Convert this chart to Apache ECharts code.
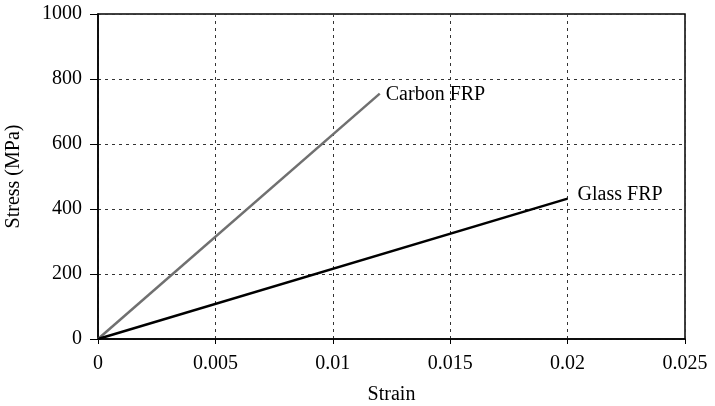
<!DOCTYPE html>
<html><head><meta charset="utf-8">
<script src="https://cdn.jsdelivr.net/npm/echarts@6/dist/echarts.min.js"></script>
<style>html,body{margin:0;padding:0;background:#fff}#c{width:715px;height:406px}</style>
</head><body><div id="c"></div>
<script>
const xTicks = [0, 0.005, 0.01, 0.015, 0.02, 0.025];
const yTicks = [0, 200, 400, 600, 800, 1000];
const carbonStrain = [0, 0.012];
const carbonStress = [0, 755];
const glassStrain = [0, 0.02];
const glassStress = [0, 432];
const seriesNames = ['Carbon FRP', 'Glass FRP'];

const font = 'Liberation Serif';
const fs = 20;
const chart = echarts.init(document.getElementById('c'));
const pair = (xs, ys) => xs.map((x, i) => [x, ys[i]]);
chart.setOption({
  animation: false,
  grid: { left: 98, right: 30, top: 14, bottom: 67, containLabel: false, outerBoundsMode: 'none', show: true, borderColor: '#000', borderWidth: 1.5, backgroundColor: 'transparent' },
  xAxis: {
    type: 'value', min: xTicks[0], max: xTicks[xTicks.length - 1], interval: 0.005,
    name: 'Strain', nameLocation: 'middle', nameGap: 46,
    nameTextStyle: { fontFamily: font, fontSize: fs, color: '#000' },
    axisLine: { lineStyle: { color: '#000', width: 1.5 } },
    axisTick: { show: true, length: 5, lineStyle: { color: '#000' } },
    axisLabel: { fontFamily: font, fontSize: fs, color: '#000', margin: 15, formatter: v => String(v) },
    splitLine: { show: true, lineStyle: { color: '#333', type: [3, 4], width: 1 } }
  },
  yAxis: {
    type: 'value', min: yTicks[0], max: yTicks[yTicks.length - 1], interval: 200,
    name: 'Stress (MPa)', nameLocation: 'middle', nameGap: 74, nameRotate: 90,
    nameTextStyle: { fontFamily: font, fontSize: fs, color: '#000' },
    axisLine: { show: true, lineStyle: { color: '#000', width: 1.5 } },
    axisTick: { show: true, length: 8, lineStyle: { color: '#000' } },
    axisLabel: { fontFamily: font, fontSize: fs, color: '#000', margin: 16, formatter: v => String(v) },
    splitLine: { show: true, lineStyle: { color: '#333', type: [3, 4], width: 1 } }
  },
  series: [
    {
      name: seriesNames[0], type: 'line', data: pair(carbonStrain, carbonStress),
      symbol: 'none', lineStyle: { color: '#707070', width: 2.5 },
      endLabel: { show: true, formatter: seriesNames[0], fontFamily: font, fontSize: fs, color: '#000', distance: 6, offset: [0, 1] }
    },
    {
      name: seriesNames[1], type: 'line', data: pair(glassStrain, glassStress),
      symbol: 'none', lineStyle: { color: '#000', width: 2.5 },
      endLabel: { show: true, formatter: seriesNames[1], fontFamily: font, fontSize: fs, color: '#000', distance: 10, offset: [0, -4] }
    }
  ]
});
</script></body></html>
